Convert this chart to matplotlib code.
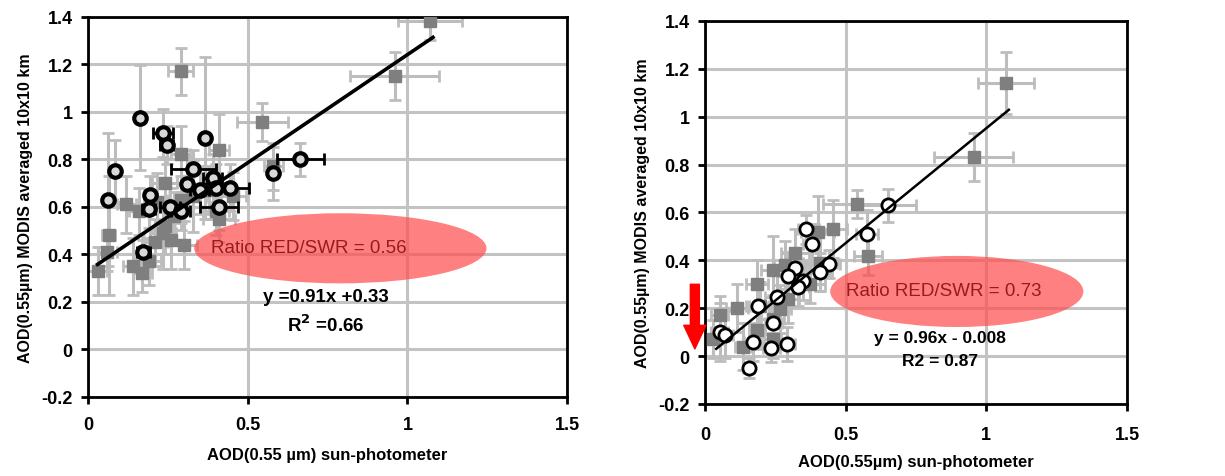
import numpy as np
import matplotlib
matplotlib.use('Agg')
import matplotlib.pyplot as plt
from matplotlib.patches import Ellipse

plt.rcParams['font.family'] = ['Liberation Sans', 'DejaVu Sans']
plt.rcParams['font.weight'] = 'bold'

# left panel, gray squares: x, y, xerr, yerr
sq1_x = [1.07, 0.29, 0.96, 0.545, 0.41, 0.29, 0.24, 0.12, 0.065, 0.06, 0.03, 0.14, 0.17, 0.19, 0.30,
         0.235, 0.26, 0.21, 0.16, 0.215, 0.29, 0.33, 0.40, 0.41, 0.455, 0.38, 0.58, 0.24, 0.27]
sq1_y = [1.38, 1.17, 1.15, 0.955, 0.84, 0.82, 0.70, 0.61, 0.48, 0.41, 0.33, 0.35, 0.32, 0.37, 0.44,
         0.49, 0.46, 0.45, 0.58, 0.62, 0.63, 0.645, 0.58, 0.55, 0.645, 0.67, 0.77, 0.52, 0.56]
sq1_xe = [0.10, 0.04, 0.14, 0.08, 0.03, 0.03, 0.04, 0.03, 0.02, 0.03, 0.03, 0.03, 0.03, 0.04, 0.04,
          0.04, 0.04, 0.04, 0.03, 0.04, 0.04, 0.04, 0.04, 0.05, 0.04, 0.04, 0.03, 0.03, 0.03]
sq1_ye = [0.08, 0.10, 0.10, 0.08, 0.15, 0.12, 0.10, 0.12, 0.25, 0.08, 0.10, 0.12, 0.08, 0.10, 0.10,
          0.15, 0.12, 0.10, 0.10, 0.12, 0.10, 0.15, 0.10, 0.10, 0.10, 0.10, 0.10, 0.12, 0.10]

# left panel, circles
ci1_x = [0.163, 0.235, 0.247, 0.367, 0.085, 0.063, 0.195, 0.19, 0.257, 0.29, 0.31, 0.33, 0.39, 0.35,
         0.40, 0.445, 0.41, 0.58, 0.665, 0.173]
ci1_y = [0.975, 0.91, 0.86, 0.89, 0.75, 0.63, 0.65, 0.59, 0.60, 0.58, 0.695, 0.76, 0.72, 0.67,
         0.68, 0.68, 0.60, 0.74, 0.80, 0.41]
ci1_xe = [0.0, 0.03, 0.02, 0.0, 0.0, 0.0, 0.0, 0.02, 0.03, 0.03, 0.0, 0.07, 0.03, 0.03,
          0.03, 0.06, 0.06, 0.0, 0.073, 0.02]
ci1_ye = [0.22, 0.10, 0.08, 0.34, 0.13, 0.28, 0.08, 0.08, 0.08, 0.08, 0.12, 0.08, 0.10, 0.10,
          0.10, 0.10, 0.10, 0.11, 0.07, 0.05]

# right panel, gray squares
sq2_x = [1.07, 0.955, 0.54, 0.58, 0.455, 0.40, 0.32, 0.285, 0.24, 0.185, 0.114, 0.053, 0.03, 0.135,
         0.185, 0.24, 0.24, 0.295, 0.375, 0.41, 0.195, 0.267]
sq2_y = [1.14, 0.83, 0.635, 0.42, 0.53, 0.52, 0.43, 0.38, 0.36, 0.30, 0.20, 0.17, 0.07, 0.04,
         0.11, 0.155, 0.07, 0.24, 0.30, 0.39, 0.21, 0.196]
sq2_xe = [0.10, 0.14, 0.12, 0.05, 0.05, 0.06, 0.05, 0.04, 0.04, 0.04, 0.04, 0.03, 0.03, 0.03,
          0.03, 0.04, 0.03, 0.04, 0.05, 0.06, 0.04, 0.04]
sq2_ye = [0.13, 0.10, 0.06, 0.08, 0.12, 0.15, 0.10, 0.10, 0.14, 0.10, 0.10, 0.08, 0.08, 0.10,
          0.08, 0.10, 0.08, 0.10, 0.08, 0.12, 0.10, 0.10]

# right panel, circles
ci2_x = [0.65, 0.575, 0.36, 0.38, 0.44, 0.41, 0.32, 0.295, 0.35, 0.33, 0.255, 0.187, 0.243, 0.17,
         0.235, 0.29, 0.155, 0.053, 0.07]
ci2_y = [0.63, 0.51, 0.53, 0.47, 0.385, 0.35, 0.37, 0.335, 0.315, 0.29, 0.245, 0.21, 0.14, 0.06,
         0.035, 0.05, -0.05, 0.10, 0.09]
ci2_xe = [0.10, 0.04, 0.03, 0.03, 0.04, 0.04, 0.04, 0.04, 0.04, 0.04, 0.04, 0.04, 0.03, 0.03,
          0.03, 0.03, 0.02, 0.03, 0.03]
ci2_ye = [0.07, 0.10, 0.06, 0.08, 0.06, 0.08, 0.08, 0.10, 0.08, 0.08, 0.10, 0.10, 0.08, 0.08,
          0.06, 0.07, 0.04, 0.12, 0.10]

# regression fits
fit1 = (0.91, 0.33, 0.03, 1.08)
fit2 = (0.96, -0.008, 0.04, 1.08)

ylab = 'AOD(0.55µm) MODIS averaged 10x10 km'
xticks = [0, 0.5, 1, 1.5]
xticklabels = ['0', '0.5', '1', '1.5']
yticks = [-0.2, 0, 0.2, 0.4, 0.6, 0.8, 1, 1.2, 1.4]
yticklabels = ['-0.2', '0', '0.2', '0.4', '0.6', '0.8', '1', '1.2', '1.4']

GRID = '#c3c3c3'
EBAR = '#bdbdbd'

fig = plt.figure(figsize=(12.25, 4.77), dpi=100)
ax1 = fig.add_axes([0.0718, 0.166, 0.3912, 0.797])
ax2 = fig.add_axes([0.5755, 0.151, 0.3445, 0.803])


def setup(ax, xlab, xpad, lpad):
    ax.set_xlim(0, 1.5)
    ax.set_ylim(-0.2, 1.4)
    ax.set_xticks(xticks)
    ax.set_xticklabels(xticklabels)
    ax.set_yticks(yticks)
    ax.set_yticklabels(yticklabels)
    ax.grid(True, color=GRID, lw=2.2)
    ax.set_axisbelow(True)
    for s in ax.spines.values():
        s.set_linewidth(2)
        s.set_color('black')
    ax.tick_params(direction='out', length=5, width=2, labelsize=13, pad=6)
    ax.tick_params(axis='x', pad=xpad)
    ax.set_xlabel(xlab, fontsize=12, fontweight='bold', labelpad=lpad)
    ax.set_ylabel(ylab, fontsize=11.5, fontweight='bold', labelpad=6)


def squares(ax, x, y, xe, ye):
    ax.errorbar(x, y, xerr=xe, yerr=ye, fmt='none', ecolor=EBAR, elinewidth=2.2,
                capsize=4, capthick=2, zorder=2)
    ax.plot(x, y, 's', color='#7f7f7f', ms=8, mec='#7f7f7f', zorder=3)


# ---- left panel ----
setup(ax1, 'AOD(0.55 µm) sun-photometer', 9, 10)
squares(ax1, sq1_x, sq1_y, sq1_xe, sq1_ye)
ax1.errorbar(ci1_x, ci1_y, yerr=ci1_ye, fmt='none', ecolor=EBAR, elinewidth=2.2,
             capsize=4, capthick=2, zorder=2)
ax1.errorbar(ci1_x, ci1_y, xerr=ci1_xe, fmt='none', ecolor='black', elinewidth=2,
             capsize=4, capthick=2, zorder=4)
ax1.plot(ci1_x, ci1_y, 'o', ms=9, mfc='#d8d8d8', mec='black', mew=3, zorder=5)
xs = np.array([fit1[2], fit1[3]])
ax1.plot(xs, fit1[0] * xs + fit1[1], color='black', lw=2.6, zorder=6)
ax1.add_patch(Ellipse((0.79, 0.425), 0.915, 0.295, facecolor=(1, 0.31, 0.31),
                      alpha=0.72, edgecolor='none', zorder=7))
ax1.text(0.69, 0.43, 'Ratio RED/SWR = 0.56', color='#9c1a1a', fontsize=13.5,
         fontweight='normal', ha='center', va='center', zorder=8)
ax1.text(0.745, 0.222, 'y =0.91x +0.33', fontsize=13.5, ha='center', va='center', zorder=8)
ax1.text(0.745, 0.105, 'R$^\\mathbf{2}$ =0.66', fontsize=13.5, ha='center', va='center', zorder=8)

# ---- right panel ----
setup(ax2, 'AOD(0.55µm) sun-photometer', 11, 8)
squares(ax2, sq2_x, sq2_y, sq2_xe, sq2_ye)
ax2.errorbar(ci2_x, ci2_y, xerr=ci2_xe, yerr=ci2_ye, fmt='none', ecolor=EBAR, elinewidth=2.2,
             capsize=4, capthick=2, zorder=2)
ax2.plot(ci2_x, ci2_y, 'o', ms=9.5, mfc='white', mec='black', mew=2, zorder=5)
xs = np.array([fit2[2], fit2[3]])
ax2.plot(xs, fit2[0] * xs + fit2[1], color='black', lw=1.8, zorder=6)
ax2.add_patch(Ellipse((0.895, 0.27), 0.9, 0.297, facecolor=(1, 0.31, 0.31),
                      alpha=0.72, edgecolor='none', zorder=7))
ax2.text(0.85, 0.275, 'Ratio RED/SWR = 0.73', color='#9c1a1a', fontsize=13.5,
         fontweight='normal', ha='center', va='center', zorder=8)
ax2.text(0.835, 0.079, 'y = 0.96x - 0.008', fontsize=12.5, ha='center', va='center', zorder=8)
ax2.text(0.835, -0.017, 'R2 = 0.87', fontsize=12.5, ha='center', va='center', zorder=8)
ax2.annotate('', xy=(-0.036, 0.03), xytext=(-0.036, 0.30), annotation_clip=False,
             arrowprops=dict(arrowstyle='simple,head_length=1.7,head_width=1.6,tail_width=0.65',
                             color='red', mutation_scale=10, shrinkA=0, shrinkB=0), zorder=9)

fig.savefig('out.png', dpi=100)
